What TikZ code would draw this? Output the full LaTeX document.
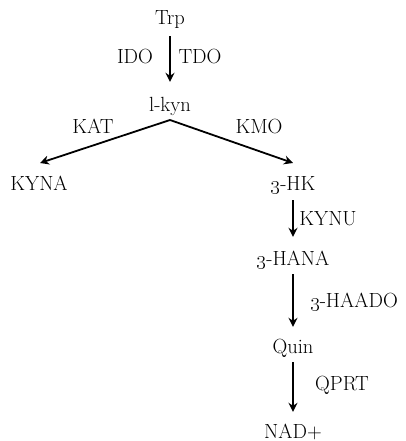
\RequirePackage{fix-cm}
\documentclass[tikz,border=0pt]{standalone}
\usetikzlibrary{arrows.meta}
\newcommand{\osthree}{\oldstylenums{3}}
\begin{document}
\begin{tikzpicture}[x=1pt,y=-1pt,
  lbl/.style={inner sep=0pt,anchor=base,text height=13pt,text depth=4pt,font=\fontsize{20.5}{24}\selectfont},
  arr/.style={line width=1.8pt,-{Stealth[length=9pt,width=9pt,inset=3pt]}}]
\useasboundingbox (0,0) rectangle (406,441);
% metabolites
\node[lbl] (trp)  at (170,25)  {Trp};
\node[lbl] (lkyn) at (170,111) {l-kyn};
\node[lbl] (kyna) at (39,190)  {KYNA};
\node[lbl] (hk)   at (293,190) {\osthree-HK};
\node[lbl] (hana) at (293,265) {\osthree-HANA};
\node[lbl] (quin) at (293,353) {Quin};
\node[lbl] (nad)  at (293,438) {NAD+};
% enzymes
\node[lbl] (ido)   at (135,64)  {IDO};
\node[lbl] (tdo)   at (200,64)  {TDO};
\node[lbl] (kat)   at (93,133)  {KAT};
\node[lbl] (kmo)   at (259,133) {KMO};
\node[lbl] (kynu)  at (328,225) {KYNU};
\node[lbl] (haado) at (354,307) {\osthree-HAADO};
\node[lbl] (qprt)  at (342,390) {QPRT};
% branch points
\coordinate (apex) at (170,120);
\coordinate (tipL) at (40,163);
\coordinate (tipR) at (293,163);
% arrows
\draw[arr,shorten <=7pt,shorten >=16pt] (trp.south) -- (lkyn.north);
\draw[arr] (apex) -- (tipL);
\draw[arr] (apex) -- (tipR);
\draw[arr,shorten <=6pt,shorten >=15pt] (hk.south) -- (hana.north);
\draw[arr,shorten <=5pt,shorten >=13pt] (hana.south) -- (quin.north);
\draw[arr,shorten <=5pt,shorten >=13pt] (quin.south) -- (nad.north);
\end{tikzpicture}
\end{document}
